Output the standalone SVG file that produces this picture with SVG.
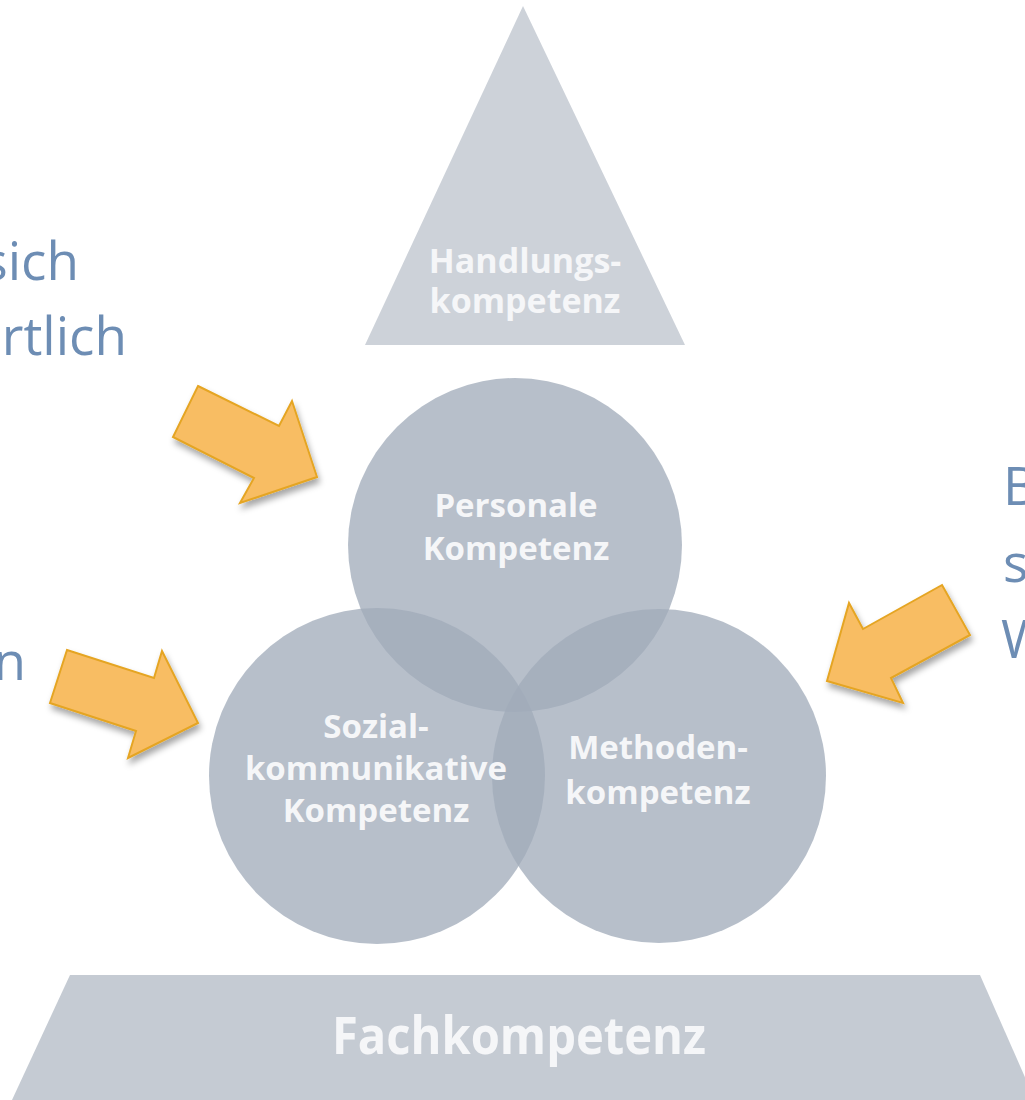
<svg xmlns="http://www.w3.org/2000/svg" width="1025" height="1100" viewBox="0 0 1025 1100">
<defs>
<filter id="sh" x="-20%" y="-20%" width="150%" height="150%">
<feDropShadow dx="2" dy="5" stdDeviation="3" flood-color="#000" flood-opacity="0.35"/>
</filter>
<style>
.lbl{font-family:"Open Sans","DejaVu Sans",sans-serif;font-weight:700;fill:#f5f6f8;text-anchor:middle}
.side{font-family:"Open Sans","Liberation Sans",sans-serif;font-size:53px;fill:#6d8db4}
.circ{fill:rgb(160,171,185);fill-opacity:0.76}
.arrow{fill:#f8bd64;stroke:#e5a524;stroke-width:2;stroke-linejoin:miter;filter:url(#sh)}
</style>
</defs>
<rect width="1025" height="1100" fill="#ffffff"/>
<g id="side-text">
<text class="side" x="79" y="280" text-anchor="end">sich</text>
<text class="side" x="127" y="355" text-anchor="end">rtlich</text>
<text class="side" x="26" y="680" text-anchor="end">n</text>
<text class="side" x="1003" y="505">B</text>
<text class="side" x="1003" y="582">s</text>
<text class="side" x="1001" y="658">W</text>
</g>
<g id="handlungskompetenz">
<polygon points="523,6 365,345 685,345" fill="#cdd2d9"/>
<text class="lbl" x="525" y="273" font-size="34">Handlungs-</text>
<text class="lbl" x="525" y="313" font-size="34">kompetenz</text>
</g>
<g id="personale">
<circle class="circ" cx="515" cy="545" r="167"/>
</g>
<g id="sozial">
<circle class="circ" cx="377" cy="776" r="168"/>
</g>
<g id="methoden">
<circle class="circ" cx="659" cy="776" r="167"/>
</g>
<g id="labels">
<text class="lbl" x="516" y="517" font-size="33">Personale</text>
<text class="lbl" x="516" y="560" font-size="33">Kompetenz</text>
<text class="lbl" x="376" y="738" font-size="33">Sozial-</text>
<text class="lbl" x="376" y="780" font-size="33">kommunikative</text>
<text class="lbl" x="376" y="822" font-size="33">Kompetenz</text>
<text class="lbl" x="658" y="759" font-size="33">Methoden-</text>
<text class="lbl" x="658" y="804" font-size="33">kompetenz</text>
</g>
<g id="fachkompetenz">
<polygon points="70,975 980,975 1035,1100 12,1100" fill="#c5cbd3"/>
<text class="lbl" x="519" y="1054" font-size="52" textLength="374" lengthAdjust="spacingAndGlyphs">Fachkompetenz</text>
</g>
<g id="connectors">
<polygon class="arrow" points="198,386 279,426 292,401 317,477 240,503 254,478 173,437"/>
<polygon class="arrow" points="67,650 154,678 162,651 198,723 128,758 136,731 50,703"/>
<polygon class="arrow" points="942,585 970,635 891,678 903,703 827,681 849,603 863,629"/>
</g>
</svg>
